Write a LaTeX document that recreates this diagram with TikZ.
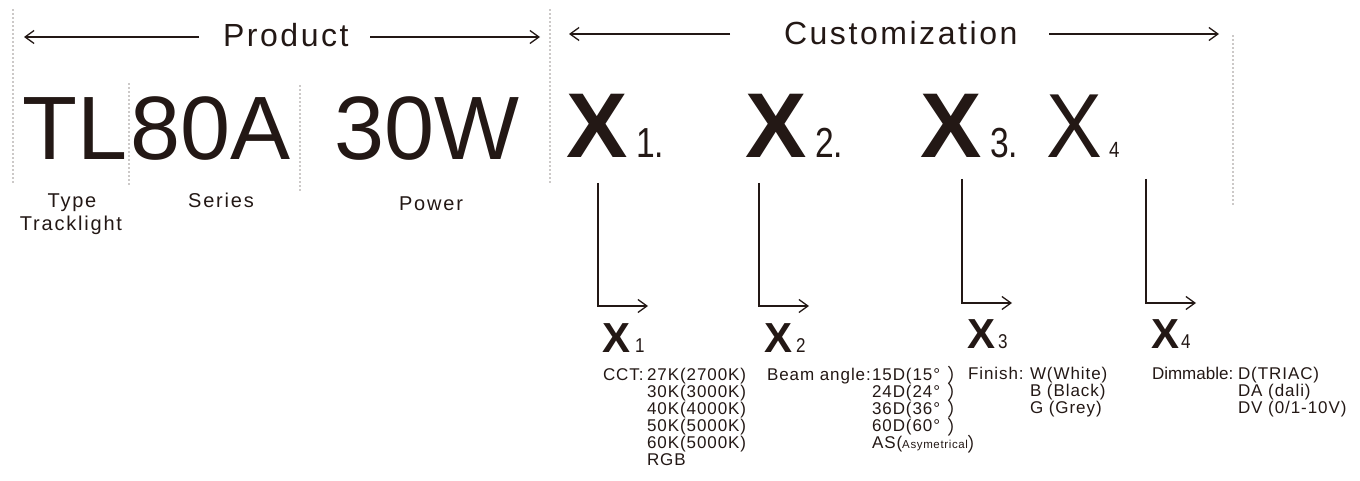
\documentclass[tikz,border=0pt]{standalone}
\usepackage{fontspec}
\setmainfont{Liberation Sans}
\newfontfamily\bodyfont[LetterSpace=5.5]{Liberation Sans}
\newfontfamily\tightfont[LetterSpace=0]{Liberation Sans}
\newfontfamily\labfont[LetterSpace=9]{Liberation Sans}
\newfontfamily\headfont[LetterSpace=8]{Liberation Sans}
\newfontfamily\condfont[FakeStretch=0.8]{Liberation Sans}
\newfontfamily\subfont[FakeStretch=0.85]{Liberation Sans}
\newfontfamily\xfourfont[FakeStretch=0.92]{Liberation Sans}
\newfontfamily\cjk{Noto Sans CJK SC}
\usetikzlibrary{arrows.meta}
\definecolor{ink}{HTML}{231815}
\newcommand{\fwparen}{\raisebox{-2.5pt}[0pt][0pt]{\cjk\fontsize{19}{19}\selectfont ）}}
\tikzset{
  txt/.style={anchor=base west, inner sep=0pt, outer sep=0pt, text=ink},
  ctxt/.style={anchor=base, inner sep=0pt, outer sep=0pt, text=ink},
  big/.style={txt, font=\fontsize{90}{90}\selectfont},
  bigx/.style={txt, font=\fontsize{92}{92}\selectfont\bfseries},
  bigsub/.style={txt, font=\condfont\fontsize{42}{42}\selectfont},
  smallx/.style={txt, font=\fontsize{42}{42}\selectfont\bfseries},
  smallsub/.style={txt, font=\subfont\fontsize{20}{20}\selectfont},
  lab/.style={ctxt, font=\labfont\fontsize{20}{20}\selectfont},
  head/.style={txt, font=\headfont\fontsize{32}{32}\selectfont},
  body/.style={txt, font=\bodyfont\fontsize{17}{16.4}\selectfont},
  dotline/.style={draw=ink, line width=1.3pt, dash pattern=on 0pt off 4pt, line cap=round},
  conn/.style={draw=ink, line width=1.3pt, -{Straight Barb[length=9pt,width=13pt,line width=1.3pt]}},
}
\begin{document}
\begin{tikzpicture}[x=1pt,y=-1pt]
\useasboundingbox (0,0) rectangle (1360,481);
\fill[white] (0,0) rectangle (1360,481);

% dotted separators
\draw[dotline] (13,10) -- (13,182);
\draw[dotline] (129,84) -- (129,187);
\draw[dotline] (300,86) -- (300,190);
\draw[dotline] (550,10) -- (550,182);
\draw[dotline] (1233,36) -- (1233,207);

% headings with arrows
\node[head] (prod) at (223,47) {Product};
\coordinate (pL1) at (199,37); \coordinate (pL2) at (24,37);
\coordinate (pR1) at (370,37); \coordinate (pR2) at (540,37);
\draw[conn] (pL1) -- (pL2);
\draw[conn] (pR1) -- (pR2);

\node[head] (cust) at (784,45) {Customization};
\coordinate (cL1) at (730,34); \coordinate (cL2) at (569,34);
\coordinate (cR1) at (1049,34); \coordinate (cR2) at (1219,34);
\draw[conn] (cL1) -- (cL2);
\draw[conn] (cR1) -- (cR2);

% product code
\node[big] (tl) at (23,160) {TL};
\node[big] (ser) at (130,160) {80A};
\node[big] (pow) at (334,160) {30W};

\node[lab] (type) at (72,208) {Type};
\node[lab] (track) at (71,230) {Tracklight};
\node[lab] (series) at (221,208) {Series};
\node[lab] (power) at (431,211) {Power};

% customization code
\node[bigx] (X1) at (566,158) {X};
\node[bigsub] (X1s) at (636,158) {1.};
\node[bigx] (X2) at (745,158) {X};
\node[bigsub] (X2s) at (815,158) {2.};
\node[bigx] (X3) at (920,158) {X};
\node[bigsub] (X3s) at (990,158) {3.};
\node[txt, font=\xfourfont\fontsize{91}{91}\selectfont] (X4) at (1046,158) {X};
\node[txt, font=\subfont\fontsize{22}{22}\selectfont] (X4s) at (1109,158) {4};

% connectors
\coordinate (a1) at (598,183); \coordinate (b1) at (648,306);
\coordinate (a2) at (759,183); \coordinate (b2) at (809,306);
\coordinate (a3) at (962,179); \coordinate (b3) at (1012,303);
\coordinate (a4) at (1146,179); \coordinate (b4) at (1196,303);
\draw[conn] (a1) |- (b1);
\draw[conn] (a2) |- (b2);
\draw[conn] (a3) |- (b3);
\draw[conn] (a4) |- (b4);

% small X labels
\node[smallx] (x1) at (602,352) {X};
\node[smallsub] (x1s) at (635,352) {1};
\node[smallx] (x2) at (764,352) {X};
\node[smallsub] (x2s) at (796,352) {2};
\node[smallx] (x3) at (967,348) {X};
\node[smallsub] (x3s) at (998,348) {3};
\node[smallx] (x4) at (1151,348) {X};
\node[smallsub] (x4s) at (1181,348) {4};

% option lists
\node[body] (cct) at (603,380) {CCT:};
\node[body] (cctv) at (647,380) {\begin{tabular}[t]{@{}l@{}}27K(2700K)\\30K(3000K)\\40K(4000K)\\50K(5000K)\\60K(5000K)\\RGB\end{tabular}};

\node[body] (beam) at (767,380) {Beam angle:};
\node[body] (beamv) at (872,380) {\begin{tabular}[t]{@{}l@{}}15D(15°\hspace{7pt}\fwparen\\24D(24°\hspace{7pt}\fwparen\\36D(36°\hspace{7pt}\fwparen\\60D(60°\hspace{7pt}\fwparen\\AS({\fontsize{11.5}{11.5}\selectfont Asymetrical}\fwparen\end{tabular}};

\node[body] (fin) at (968,379) {Finish:};
\node[body] (finv) at (1030,379) {\begin{tabular}[t]{@{}l@{}}W(White)\\B (Black)\\G (Grey)\end{tabular}};

\node[body, font=\tightfont\fontsize{17}{16.4}\selectfont] (dim) at (1152,379) {Dimmable:};
\node[body] (dimv) at (1238,379) {\begin{tabular}[t]{@{}l@{}}D(TRIAC)\\DA (dali)\\DV (0/1-10V)\end{tabular}};
\end{tikzpicture}
\end{document}
